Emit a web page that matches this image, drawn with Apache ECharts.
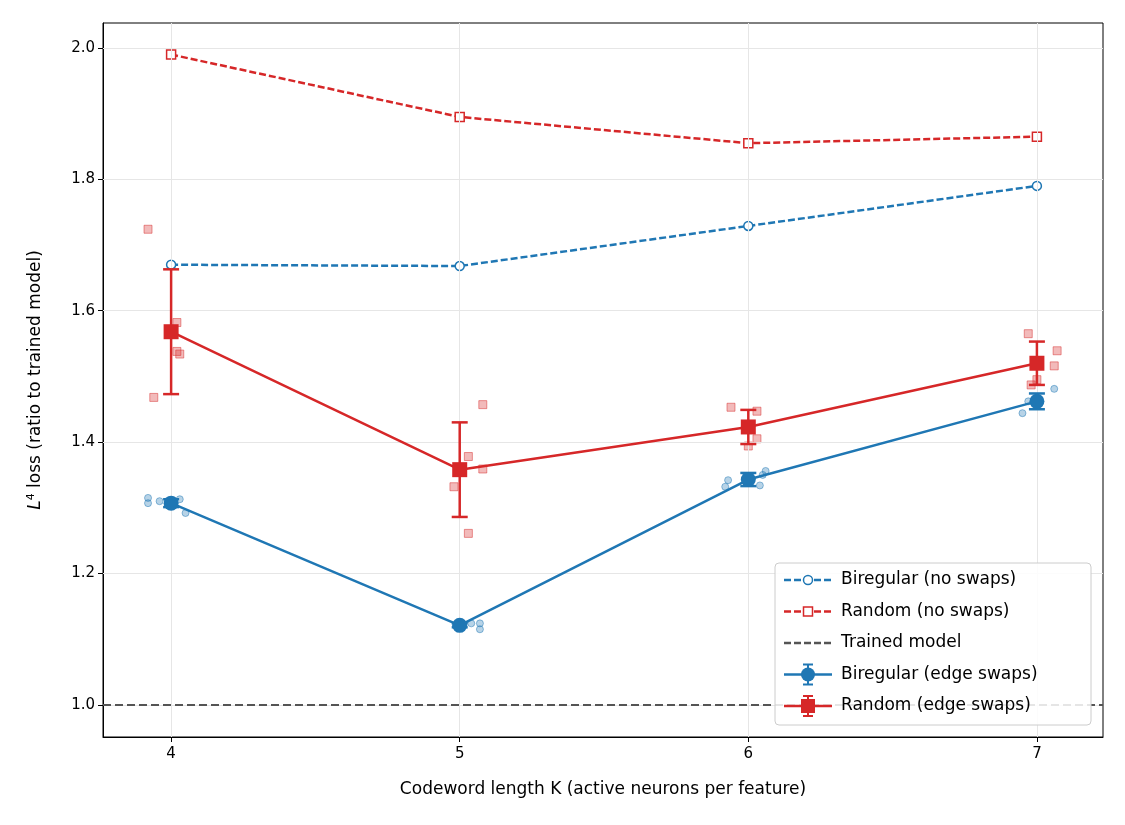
<!DOCTYPE html>
<html><head><meta charset="utf-8">
<script src="https://cdn.jsdelivr.net/npm/echarts@6/dist/echarts.min.js"></script>
<style>body{margin:0;background:#fff}#main{width:1125px;height:825px}</style>
</head><body><div id="main"></div>
<script>
var K = [4, 5, 6, 7];
var xTicks = [4, 5, 6, 7];
var yTicks = [1.0, 1.2, 1.4, 1.6, 1.8, 2.0];
var birNoSwap = [1.670, 1.668, 1.729, 1.790];
var rndNoSwap = [1.990, 1.895, 1.855, 1.865];
var birSwapMean = [1.307, 1.121, 1.343, 1.462];
var birSwapErr = [0.006, 0.003, 0.010, 0.012];
var rndSwapMean = [1.568, 1.358, 1.423, 1.520];
var rndSwapErr = [0.095, 0.072, 0.026, 0.033];
var rndRuns = [[3.92,1.724],[4.02,1.582],[4.02,1.538],[4.03,1.534],[3.94,1.468],
  [5.08,1.457],[5.03,1.378],[5.08,1.359],[4.98,1.332],[5.03,1.261],
  [5.94,1.453],[6.03,1.447],[6.03,1.405],[6.00,1.394],
  [6.97,1.565],[7.07,1.539],[7.06,1.516],[6.98,1.487],[7.00,1.495]];
var birRuns = [[3.92,1.315],[3.92,1.307],[3.96,1.310],[4.03,1.313],[4.05,1.292],
  [5.04,1.124],[5.07,1.124],[5.07,1.115],
  [5.93,1.342],[5.92,1.332],[6.06,1.356],[6.04,1.334],[6.05,1.350],
  [7.06,1.481],[6.97,1.462],[6.95,1.444]];

var BLUE = '#1f77b4', RED = '#d62728';
var FONT = 'DejaVu Sans';
var zip = function (a) { return K.map(function (k, i) { return [k, a[i]]; }); };

function errSeries(mean, err, color) {
  return {
    type: 'custom', z: 5,
    data: K.map(function (k, i) { return [k, mean[i] - err[i], mean[i] + err[i]]; }),
    renderItem: function (p, api) {
      var lo = api.coord([api.value(0), api.value(1)]);
      var hi = api.coord([api.value(0), api.value(2)]);
      var s = { stroke: color, lineWidth: 2.5 };
      return { type: 'group', children: [
        { type: 'line', shape: { x1: lo[0], y1: lo[1], x2: hi[0], y2: hi[1] }, style: s },
        { type: 'line', shape: { x1: lo[0] - 8, y1: lo[1], x2: lo[0] + 8, y2: lo[1] }, style: s },
        { type: 'line', shape: { x1: hi[0] - 8, y1: hi[1], x2: hi[0] + 8, y2: hi[1] }, style: s }
      ]};
    }
  };
}

var gridLine = { color: '#e6e6e6', width: 1, type: 'solid' };
var legendRows = [
  { t: 'Biregular (no swaps)', c: BLUE, dash: true, m: 'circle' },
  { t: 'Random (no swaps)', c: RED, dash: true, m: 'square' },
  { t: 'Trained model', c: '#555', dash: true, m: null },
  { t: 'Biregular (edge swaps)', c: BLUE, dash: false, m: 'circleF' },
  { t: 'Random (edge swaps)', c: RED, dash: false, m: 'squareF' }
];
var graphics = [{ type: 'rect', shape: { x: 775, y: 563, width: 316, height: 162, r: 4 },
  style: { fill: 'rgba(255,255,255,0.85)', stroke: '#ccc', lineWidth: 1 }, z: 100 }];
legendRows.forEach(function (r, i) {
  var y = 580 + i * 31.5;
  graphics.push({ type: 'line', z: 101, shape: { x1: 784, y1: y, x2: 832, y2: y },
    style: { stroke: r.c, lineWidth: 2.5, lineDash: r.dash ? [7, 3] : null } });
  if (r.m === 'circle') graphics.push({ type: 'circle', z: 102, shape: { cx: 808, cy: y, r: 4.5 }, style: { fill: '#fff', stroke: r.c, lineWidth: 1.5 } });
  if (r.m === 'square') graphics.push({ type: 'rect', z: 102, shape: { x: 803.5, y: y - 4.5, width: 9, height: 9 }, style: { fill: '#fff', stroke: r.c, lineWidth: 1.5 } });
  if (r.m === 'circleF' || r.m === 'squareF') {
    var s = { stroke: r.c, lineWidth: 2 };
    graphics.push({ type: 'line', z: 101, shape: { x1: 808, y1: y - 10, x2: 808, y2: y + 10 }, style: s });
    graphics.push({ type: 'line', z: 101, shape: { x1: 803, y1: y - 10, x2: 813, y2: y - 10 }, style: s });
    graphics.push({ type: 'line', z: 101, shape: { x1: 803, y1: y + 10, x2: 813, y2: y + 10 }, style: s });
    if (r.m === 'circleF') graphics.push({ type: 'circle', z: 102, shape: { cx: 808, cy: y, r: 7 }, style: { fill: r.c } });
    else graphics.push({ type: 'rect', z: 102, shape: { x: 801, y: y - 7, width: 14, height: 14 }, style: { fill: r.c } });
  }
  graphics.push({ type: 'text', z: 102, x: 841, y: y, style: { text: r.t, fill: '#000', fontFamily: FONT, fontSize: 17, verticalAlign: 'middle' } });
});

var chart = echarts.init(document.getElementById('main'));
chart.setOption({
  animation: false,
  textStyle: { fontFamily: FONT },
  grid: { left: 103, right: 22, top: 23, bottom: 88, show: true, borderColor: '#000', borderWidth: 1, backgroundColor: 'transparent' },
  xAxis: {
    type: 'value', min: 3.764, max: 7.229,
    name: 'Codeword length K (active neurons per feature)', nameLocation: 'middle', nameGap: 44,
    nameTextStyle: { fontSize: 17, color: '#000', fontFamily: FONT },
    axisLine: { onZero: false, lineStyle: { color: '#000' } },
    axisTick: { customValues: xTicks, length: 5, lineStyle: { color: '#000' } },
    axisLabel: { customValues: xTicks, fontSize: 15, color: '#000', margin: 10, fontFamily: FONT },
    splitLine: { show: false }
  },
  yAxis: {
    type: 'value', min: 0.951, max: 2.038,
    name: '{i|L}{s|4} loss (ratio to trained model)', nameLocation: 'middle', nameGap: 58,
    nameTextStyle: { fontSize: 17, color: '#000', fontFamily: FONT, rich: { i: { fontSize: 17, fontStyle: 'italic', fontFamily: FONT }, s: { fontSize: 11, fontFamily: FONT, verticalAlign: 'top', padding: [0, 0, 8, 0] } } },
    axisLine: { show: true, lineStyle: { color: '#000' } },
    axisTick: { show: true, customValues: yTicks, length: 5, lineStyle: { color: '#000' } },
    axisLabel: { customValues: yTicks, fontSize: 15, color: '#000', fontFamily: FONT, formatter: function (v) { return v.toFixed(1); } },
    splitLine: { show: false }
  },
  graphic: graphics,
  series: [
    { type: 'line', data: [], silent: true, z: 0,
      markLine: { silent: true, symbol: 'none', label: { show: false }, lineStyle: gridLine,
        data: xTicks.map(function (v) { return { xAxis: v }; }).concat(yTicks.map(function (v) { return { yAxis: v }; })) } },
    { type: 'line', data: [], silent: true, z: 1,
      markLine: { silent: true, symbol: 'none', label: { show: false },
        lineStyle: { color: '#555', width: 2, type: [8, 4] }, data: [{ yAxis: 1.0 }] } },
    { type: 'scatter', data: rndRuns, symbol: 'rect', symbolSize: 8, z: 2,
      itemStyle: { color: 'rgba(214,39,40,0.4)', borderColor: 'rgba(214,39,40,0.6)', borderWidth: 1 } },
    { type: 'scatter', data: birRuns, symbol: 'circle', symbolSize: 7, z: 2,
      itemStyle: { color: 'rgba(31,119,180,0.4)', borderColor: 'rgba(31,119,180,0.6)', borderWidth: 1 } },
    { type: 'line', data: zip(birNoSwap), symbol: 'circle', symbolSize: 9, z: 3,
      lineStyle: { color: BLUE, width: 2.5, type: [7, 3] }, itemStyle: { color: '#fff', borderColor: BLUE, borderWidth: 1.5 } },
    { type: 'line', data: zip(rndNoSwap), symbol: 'rect', symbolSize: 9, z: 3,
      lineStyle: { color: RED, width: 2.5, type: [7, 3] }, itemStyle: { color: '#fff', borderColor: RED, borderWidth: 1.5 } },
    errSeries(birSwapMean, birSwapErr, BLUE),
    errSeries(rndSwapMean, rndSwapErr, RED),
    { type: 'line', data: zip(birSwapMean), symbol: 'circle', symbolSize: 15, z: 6,
      lineStyle: { color: BLUE, width: 2.5 }, itemStyle: { color: BLUE } },
    { type: 'line', data: zip(rndSwapMean), symbol: 'rect', symbolSize: 15, z: 6,
      lineStyle: { color: RED, width: 2.5 }, itemStyle: { color: RED } }
  ]
});
</script></body></html>
